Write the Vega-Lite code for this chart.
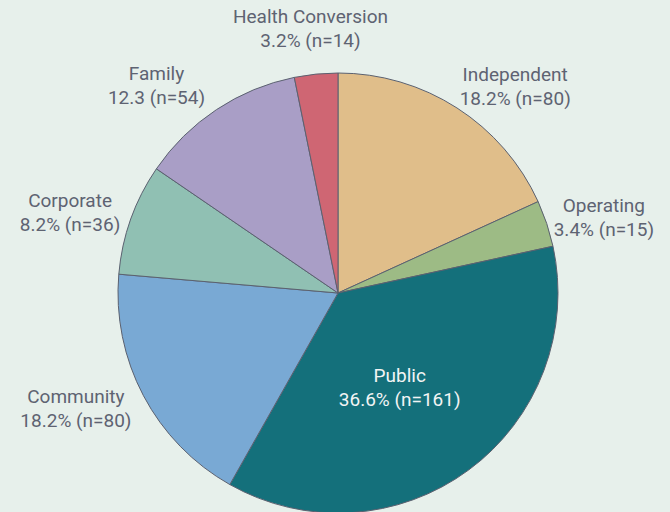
{
  "$schema": "https://vega.github.io/schema/vega-lite/v6.json",
  "width": 664,
  "height": 438,
  "autosize": "none",
  "padding": {"top": 74, "bottom": 0, "left": 6, "right": 0},
  "background": "#e7f0eb",
  "view": {"stroke": null},
  "data": {
    "values": [
      {"category": "Independent", "n": 80, "order": 1, "label": "Independent\n18.2% (n=80)"},
      {"category": "Operating", "n": 15, "order": 2, "label": "Operating\n3.4% (n=15)"},
      {"category": "Public", "n": 161, "order": 3, "label": "Public\n36.6% (n=161)"},
      {"category": "Community", "n": 80, "order": 4, "label": "Community\n18.2% (n=80)"},
      {"category": "Corporate", "n": 36, "order": 5, "label": "Corporate\n8.2% (n=36)"},
      {"category": "Family", "n": 54, "order": 6, "label": "Family\n12.3 (n=54)"},
      {"category": "Health Conversion", "n": 14, "order": 7, "label": "Health Conversion\n3.2% (n=14)"}
    ]
  },
  "encoding": {
    "theta": {"field": "n", "type": "quantitative", "stack": true},
    "order": {"field": "order", "type": "quantitative"}
  },
  "layer": [
    {
      "mark": {"type": "arc", "outerRadius": 220, "stroke": "#5b6170", "strokeWidth": 1},
      "encoding": {
        "color": {
          "field": "category",
          "type": "nominal",
          "legend": null,
          "scale": {
            "domain": ["Independent", "Operating", "Public", "Community", "Corporate", "Family", "Health Conversion"],
            "range": ["#e0be8a", "#9dbb85", "#14707b", "#79a9d4", "#90c0b3", "#a99ec6", "#cf6673"]
          }
        }
      }
    },
    {
      "mark": {"type": "text", "radius": 276, "dy": -1, "font": "Roboto", "fontSize": 19, "lineBreak": "\n", "lineHeight": 24, "color": "#5e6372", "baseline": "middle", "align": "center"},
      "encoding": {"text": {"condition": {"test": "datum.category == 'Health Conversion'", "field": "label"}, "value": ""}}
    },
    {
      "mark": {"type": "text", "radius": 276, "dx": 4, "dy": 0, "font": "Roboto", "fontSize": 19, "lineBreak": "\n", "lineHeight": 24, "color": "#5e6372", "baseline": "middle", "align": "center"},
      "encoding": {"text": {"condition": {"test": "datum.category == 'Operating'", "field": "label"}, "value": ""}}
    },
    {
      "mark": {"type": "text", "radius": 276, "dx": -8, "dy": 1, "font": "Roboto", "fontSize": 19, "lineBreak": "\n", "lineHeight": 24, "color": "#5e6372", "baseline": "middle", "align": "center"},
      "encoding": {"text": {"condition": {"test": "datum.category == 'Corporate'", "field": "label"}, "value": ""}}
    },
    {
      "mark": {"type": "text", "radius": 276, "dx": -18, "dy": -25, "font": "Roboto", "fontSize": 19, "lineBreak": "\n", "lineHeight": 24, "color": "#5e6372", "baseline": "middle", "align": "center"},
      "encoding": {"text": {"condition": {"test": "datum.category == 'Community'", "field": "label"}, "value": ""}}
    },
    {
      "mark": {"type": "text", "radius": 276, "dx": 28, "dy": 14, "font": "Roboto", "fontSize": 19, "lineBreak": "\n", "lineHeight": 24, "color": "#5e6372", "baseline": "middle", "align": "center"},
      "encoding": {"text": {"condition": {"test": "datum.category == 'Independent'", "field": "label"}, "value": ""}}
    },
    {
      "mark": {"type": "text", "radius": 276, "dx": -29, "dy": 11, "font": "Roboto", "fontSize": 19, "lineBreak": "\n", "lineHeight": 24, "color": "#5e6372", "baseline": "middle", "align": "center"},
      "encoding": {"text": {"condition": {"test": "datum.category == 'Family'", "field": "label"}, "value": ""}}
    },
    {
      "mark": {"type": "text", "radius": 109, "dx": -3, "dy": -5, "font": "Roboto", "fontSize": 19, "lineBreak": "\n", "lineHeight": 24, "color": "#f2f4f4", "baseline": "middle", "align": "center"},
      "encoding": {"text": {"condition": {"test": "datum.category == 'Public'", "field": "label"}, "value": ""}}
    }
  ]
}
